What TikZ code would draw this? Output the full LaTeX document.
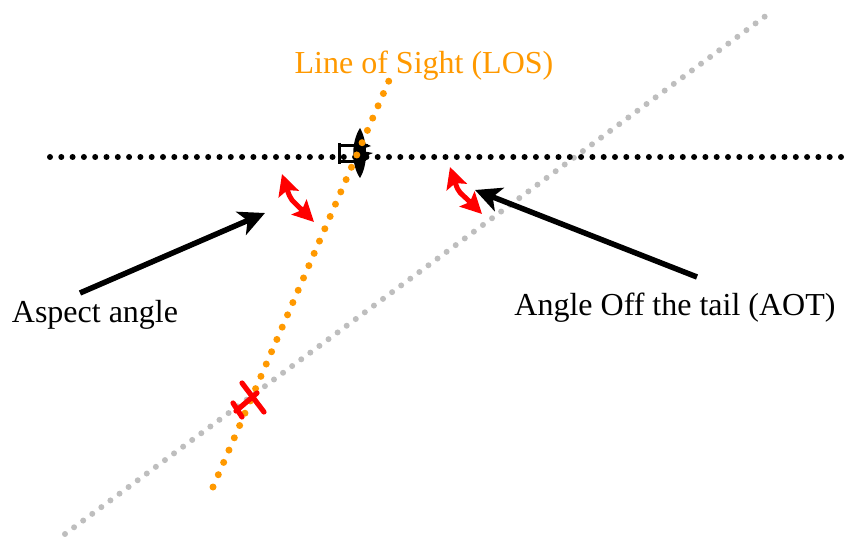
\documentclass[tikz,border=0pt]{standalone}
\usepackage{fontspec}
\setmainfont{Liberation Serif}
\usetikzlibrary{arrows.meta}
\definecolor{losorange}{RGB}{255,153,0}
\definecolor{aotgray}{RGB}{190,190,190}
\tikzset{
  x=1pt,y=-1pt,
  dotline/.style={line cap=round,dash pattern=on 0pt off #1},
  pointer/.style={draw=black,line width=5.5pt,-{Stealth[length=26pt,width=25pt,inset=7pt]}},
  swing/.style={draw=red,line width=5pt,{Stealth[length=21pt,width=21pt,inset=4pt]}-{Stealth[length=21pt,width=21pt,inset=4pt]}},
  lbl/.style={font=\fontsize{32}{36}\selectfont,inner sep=0pt,anchor=base},
  redplane/.style={draw=red,line width=5.2pt,line cap=round},
  blackplane/.style={draw=black,line width=3pt},
}
\begin{document}
\begin{tikzpicture}
\useasboundingbox (0,0) rectangle (848,537);
\coordinate (hA) at (50,157);
\coordinate (hB) at (848,157);
\coordinate (gA) at (65,534);
\coordinate (gB) at (771,12);
\coordinate (oA) at (213,487);
\coordinate (oB) at (394,69);
\coordinate (a1) at (80,293);
\coordinate (a2) at (265,213);
\coordinate (b1) at (697,277);
\coordinate (b2) at (475,190);
\coordinate (s1) at (282,174);
\coordinate (s2) at (314,222);
\coordinate (t1) at (450,167);
\coordinate (t2) at (482,214);
% grey line and black line
\draw[aotgray,line width=6pt,dotline=11.3pt] (gA) -- (gB);
\draw[black,line width=6pt,dotline=11.3pt] (hA) -- (hB);
% black aircraft
\fill[black] (360,128) .. controls (351,142) and (351,165) .. (360,178) .. controls (368,165) and (368,142) .. cycle;
\draw[blackplane] (339,143) -- (339,164);
\draw[blackplane] (339,145.5) -- (368,145.5);
\draw[blackplane] (339,162) -- (365,162);
\fill[black] (362,142) -- (371,146) -- (362,149) -- cycle;
\fill[black] (362,151) -- (373,153) -- (366,156) -- (366,161) -- (362,160) -- cycle;
% orange line
\draw[losorange,line width=7pt,dotline=13.4pt] (oA) -- (oB);
% red aircraft
\draw[redplane] (242,383) -- (264,412);
\draw[redplane] (233,403) -- (242,417);
\draw[redplane] (236,411) -- (257,393);
% arrows
\draw[pointer] (a1) -- (a2);
\draw[pointer] (b1) -- (b2);
\draw[swing] (s1) .. controls (291,201) and (291,199) .. (s2);
\draw[swing] (t1) .. controls (459,194) and (459,191) .. (t2);
% labels
\node[lbl,text=losorange] (los) at (424,74) {Line of Sight (LOS)};
\node[lbl] (asp) at (95,322) {Aspect angle};
\node[lbl] (aot) at (675,315) {Angle Off the tail (AOT)};
\end{tikzpicture}
\end{document}
